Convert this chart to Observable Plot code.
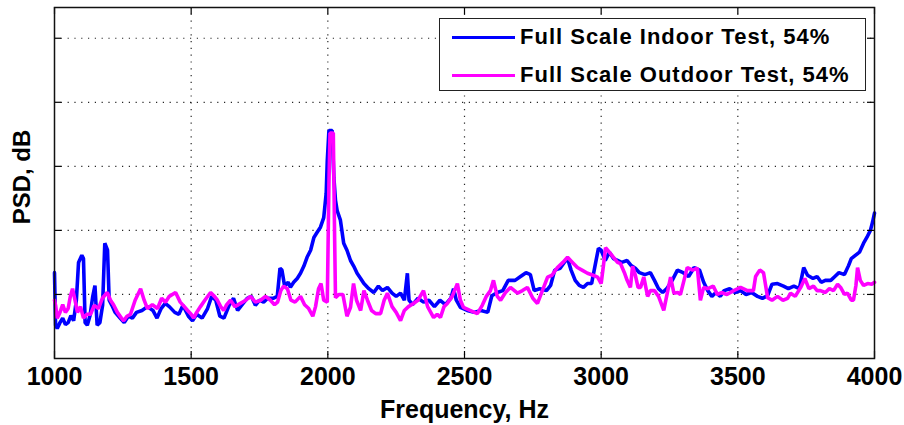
<!DOCTYPE html>
<html>
<head>
<meta charset="utf-8">
<script src="https://cdn.jsdelivr.net/npm/d3@7"></script>
<script src="https://cdn.jsdelivr.net/npm/@observablehq/plot@0.6"></script>
<style>
  html, body { margin: 0; padding: 0; background: #fff; }
  #wrap { position: relative; width: 904px; height: 425px; font-family: "Liberation Sans", Arial, sans-serif; }
  #wrap svg { overflow: visible; }
  #legend { position: absolute; left: 439px; top: 18px; width: 425px; height: 71px; border: 1.5px solid #222; background: #fff; box-sizing: content-box; }
  .row { position: absolute; left: 0; height: 30px; display: flex; align-items: center; }
  .sw { display: inline-block; width: 63px; height: 3px; margin-left: 12px; margin-right: 5px; }
  .lt { font-weight: bold; font-size: 22px; letter-spacing: 1.0px; color: #000; white-space: nowrap; }
</style>
</head>
<body>
<div id="wrap"></div>
<script>
// ---- data ----
const xTicks = [1000, 1500, 2000, 2500, 3000, 3500, 4000];
const yTicks = [10, 20, 30, 40, 50];
const seriesNames = ["Full Scale Indoor Test, 54%", "Full Scale Outdoor Test, 54%"];
const seriesColors = ["#0000ff", "#ff00ff"];
const xLabel = "Frequency, Hz";
const yLabel = "PSD, dB";

const indoorFreq = [1000,1004,1010,1020,1030,1040,1050,1060,1070,1080,1088,1100,1106,1112,1120,1130,1140,1148,1156,1166,1176,1184,1194,1200,1210,1222,1240,1255,1270,1285,1300,1320,1340,1360,1375,1390,1405,1420,1440,1455,1470,1490,1505,1520,1540,1560,1575,1590,1605,1620,1640,1655,1670,1690,1705,1720,1735,1750,1765,1780,1800,1815,1825,1832,1842,1855,1863,1875,1888,1900,1912,1924,1937,1949,1961,1973,1985,1994,1998,2004,2016,2022,2028,2034,2046,2058,2070,2083,2095,2107,2120,2132,2150,2168,2185,2200,2218,2235,2250,2266,2280,2291,2297,2310,2330,2350,2370,2390,2410,2430,2450,2460,2470,2485,2510,2535,2560,2585,2600,2620,2640,2660,2685,2705,2725,2741,2755,2775,2800,2815,2830,2850,2865,2877,2890,2905,2920,2935,2950,2965,2980,2990,3000,3015,3030,3045,3060,3075,3095,3110,3125,3140,3160,3180,3195,3210,3225,3240,3260,3279,3300,3320,3340,3360,3375,3390,3405,3420,3436,3450,3470,3490,3510,3530,3550,3572,3590,3609,3625,3645,3667,3685,3705,3725,3741,3755,3775,3790,3805,3820,3840,3855,3870,3890,3905,3915,3930,3945,3960,3972,3985,3993,4000];
const indoorPsd = [13.4,5.2,4.7,5.6,6.3,5.3,5.6,6.7,5.9,9.1,15.0,16.1,15.6,5.6,5.2,6.7,9.7,11.4,5.2,5.6,8.3,18.0,16.9,9.1,8.3,7.2,6.3,5.6,6.6,6.3,7.2,7.5,8.1,7.5,6.3,7.8,8.6,8.1,7.2,6.9,8.3,6.6,5.9,6.9,6.3,7.8,9.7,9.1,6.6,6.3,8.4,9.4,7.5,8.6,9.4,9.7,8.3,9.1,8.8,9.4,9.4,9.7,14.1,13.8,11.3,11.9,11.1,11.9,12.5,13.3,14.4,15.8,16.9,18.9,19.7,20.5,22.0,25.8,30.9,35.6,35.6,28.3,24.7,23.1,21.6,18.0,16.9,15.3,14.4,13.3,12.5,11.7,10.9,10.3,11.3,10.6,11.1,10.2,9.7,10.2,9.1,13.3,9.1,8.4,9.4,8.8,9.1,8.1,9.1,8.4,9.4,10.9,9.1,8.0,7.5,7.2,7.5,7.2,9.8,10.3,10.6,12.2,12.2,12.8,13.4,13.1,10.6,10.9,10.6,11.4,13.8,14.1,15.0,15.6,13.8,12.2,11.4,11.1,11.7,11.7,15.0,17.2,16.9,15.3,16.6,15.6,15.3,15.0,15.3,14.5,14.1,13.4,13.1,13.4,12.2,10.9,10.3,10.9,12.2,13.8,13.4,12.8,14.2,13.8,11.9,10.6,9.7,10.3,9.7,10.6,10.9,10.3,10.6,10.0,10.3,9.7,9.4,9.8,11.6,11.7,11.3,10.9,11.3,10.9,14.2,13.0,12.5,12.8,11.9,12.2,12.2,12.8,13.4,13.1,14.5,15.6,16.1,16.6,18.0,18.9,20.0,21.3,22.7];

const outdoorFreq = [1000,1004,1010,1020,1030,1040,1050,1058,1066,1075,1084,1095,1106,1118,1132,1145,1161,1175,1193,1205,1216,1230,1245,1253,1265,1278,1295,1315,1328,1340,1358,1377,1392,1406,1420,1443,1460,1475,1487,1500,1509,1520,1534,1550,1571,1585,1596,1608,1619,1630,1644,1660,1680,1700,1717,1735,1754,1772,1790,1805,1816,1828,1838,1852,1865,1880,1900,1915,1930,1945,1955,1966,1975,1985,1998,2004,2008,2020,2025,2028,2040,2055,2070,2083,2094,2105,2120,2132,2145,2160,2175,2193,2206,2218,2235,2250,2266,2280,2295,2313,2330,2350,2365,2387,2400,2412,2425,2437,2455,2474,2485,2496,2520,2547,2565,2580,2595,2606,2620,2632,2650,2668,2694,2712,2730,2750,2767,2785,2804,2820,2840,2860,2877,2895,2913,2930,2950,2970,2987,3000,3008,3016,3030,3045,3060,3071,3085,3095,3107,3115,3125,3135,3144,3156,3170,3180,3195,3210,3229,3240,3254,3266,3280,3290,3303,3315,3335,3352,3363,3375,3390,3410,3425,3440,3460,3485,3510,3535,3557,3565,3580,3594,3609,3625,3645,3665,3682,3693,3710,3730,3745,3760,3777,3790,3802,3820,3835,3850,3865,3876,3890,3901,3915,3923,3932,3938,3948,3960,3975,3990,4000];
const outdoorPsd = [9.1,8.3,6.3,7.2,8.4,7.2,7.8,9.7,10.9,9.1,7.2,8.1,6.3,6.9,6.9,8.3,7.8,9.4,10.3,9.1,8.4,7.2,6.3,5.9,6.6,6.9,9.1,10.9,9.1,7.8,8.4,7.8,9.4,8.8,9.7,10.3,8.8,8.1,7.5,6.9,6.3,7.2,8.1,9.1,10.3,9.7,9.1,8.1,7.5,8.4,9.1,8.1,8.6,9.1,9.7,8.8,9.1,9.7,9.1,8.4,8.8,10.6,11.3,10.9,9.1,8.8,9.7,8.4,7.8,6.6,8.1,10.9,11.7,9.1,8.8,27.3,35.2,35.2,18.4,9.5,10.0,10.0,6.6,8.0,11.7,9.1,7.5,10.6,9.1,7.5,7.0,7.0,9.1,10.2,8.1,7.2,5.9,7.5,8.1,8.6,9.1,10.6,8.1,6.4,6.9,6.4,8.1,8.6,9.7,11.7,9.1,8.0,7.5,7.0,8.3,9.7,10.6,12.2,9.7,9.1,10.3,11.1,10.2,10.6,11.1,9.4,8.6,10.6,12.7,13.0,14.2,15.0,15.8,15.0,14.2,13.8,13.3,13.0,12.7,11.7,14.4,17.3,16.6,15.8,15.0,14.8,13.4,12.2,11.1,14.4,13.0,11.1,11.1,12.7,9.7,10.6,10.6,9.7,7.5,9.8,12.7,10.2,10.3,10.0,12.2,14.2,13.8,14.1,9.1,11.1,10.9,11.3,10.0,10.3,10.0,10.6,11.1,10.6,10.6,12.8,13.8,13.4,9.5,9.1,9.7,9.1,9.4,10.2,9.7,11.1,12.5,10.9,11.3,10.6,10.6,10.3,10.9,10.6,11.6,11.1,10.0,10.2,9.1,9.1,11.4,14.2,12.2,11.4,11.7,11.6,11.9];

// ---- build table ----
const rows = [];
indoorFreq.forEach((f, i) => rows.push({series: seriesNames[0], freq: f, psd: indoorPsd[i]}));
outdoorFreq.forEach((f, i) => rows.push({series: seriesNames[1], freq: f, psd: outdoorPsd[i]}));

const W = 904, H = 425;
const mL = 54, mR = 30, mT = 7, mB = 67;
const innerH = H - mT - mB, innerW = W - mL - mR;
const font = "'Liberation Sans', Arial, sans-serif";

const chart = Plot.plot({
  width: W, height: H,
  marginLeft: mL, marginRight: mR, marginTop: mT, marginBottom: mB,
  style: {fontFamily: font, background: "#fff", color: "#000", overflow: "visible"},
  x: {domain: [1000, 4000]},
  y: {domain: [0, 54.8]},
  color: {domain: seriesNames, range: seriesColors},
  marks: [
    Plot.gridX(xTicks.slice(1, -1), {stroke: "#000", strokeOpacity: 0.85, strokeWidth: 1.2, strokeDasharray: "1.2,5.6"}),
    Plot.gridY(yTicks, {stroke: "#000", strokeOpacity: 0.85, strokeWidth: 1.2, strokeDasharray: "1.2,5.6"}),
    Plot.line(rows, {x: "freq", y: "psd", z: "series", stroke: "series", strokeWidth: 3.6, curve: "linear", strokeLinejoin: "miter"}),
    // inward ticks on all four sides
    Plot.tickX(xTicks, {x: d => d, insetTop: innerH - 7, stroke: "#000", strokeWidth: 1.2}),
    Plot.tickX(xTicks, {x: d => d, insetBottom: innerH - 7, stroke: "#000", strokeWidth: 1.2}),
    Plot.tickY(yTicks, {y: d => d, insetRight: innerW - 7, stroke: "#000", strokeWidth: 1.2}),
    Plot.tickY(yTicks, {y: d => d, insetLeft: innerW - 7, stroke: "#000", strokeWidth: 1.2}),
    Plot.frame({stroke: "#111", strokeWidth: 1.5}),
    Plot.axisX(xTicks, {tickSize: 0, tickPadding: 9, fontSize: 25, fontWeight: "bold", label: null, tickFormat: d => String(d)}),
    Plot.axisY({ticks: [], label: null, tickSize: 0}),
    Plot.text([xLabel], {frameAnchor: "bottom", text: d => d, dy: 51, fontSize: 25, fontWeight: "bold", textAnchor: "middle", lineAnchor: "middle"}),
    Plot.text([yLabel], {frameAnchor: "left", text: d => d, dx: -32, dy: -6, rotate: -90, fontSize: 24, fontWeight: "bold", textAnchor: "middle", lineAnchor: "middle"})
  ]
});

const wrap = document.getElementById("wrap");
wrap.appendChild(chart);

// legend
const legend = document.createElement("div");
legend.id = "legend";
seriesNames.forEach((name, i) => {
  const row = document.createElement("div");
  row.className = "row";
  row.style.top = (i === 0 ? 3 : 41) + "px";
  const sw = document.createElement("span");
  sw.className = "sw";
  sw.style.background = seriesColors[i];
  const t = document.createElement("span");
  t.className = "lt";
  t.textContent = name;
  row.appendChild(sw); row.appendChild(t);
  legend.appendChild(row);
});
wrap.appendChild(legend);
</script>
</body>
</html>
